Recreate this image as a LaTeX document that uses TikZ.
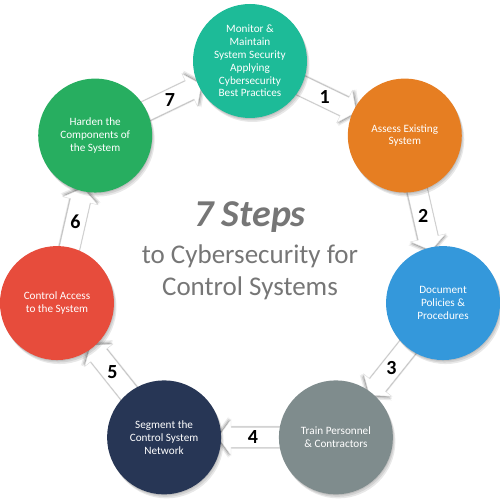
\documentclass[tikz,border=0pt]{standalone}
\usepackage{fontspec}
\setmainfont{Carlito}
\usetikzlibrary{positioning,shadows,backgrounds}
\definecolor{step-teal}{HTML}{1DBB98}
\definecolor{step-orange}{HTML}{E67E22}
\definecolor{step-blue}{HTML}{3498DB}
\definecolor{step-gray}{HTML}{7F8C8D}
\definecolor{step-navy}{HTML}{273655}
\definecolor{step-red}{HTML}{E74C3C}
\definecolor{step-green}{HTML}{27AE60}
\definecolor{title-gray}{HTML}{767676}
\tikzset{
    soft-shadow/.style = {
        drop shadow={opacity=0.09, shadow xshift=0.5pt, shadow yshift=-1pt, fill=black},
        drop shadow={opacity=0.09, shadow xshift=1.5pt, shadow yshift=-2.5pt, fill=black},
        drop shadow={opacity=0.09, shadow xshift=2.5pt, shadow yshift=-4pt, fill=black}},
    halo-shadow/.style = {
        general shadow={opacity=0.18, shadow scale=1.04, fill=black},
        general shadow={opacity=0.12, shadow scale=1.09, fill=black},
        general shadow={opacity=0.08, shadow scale=1.14, fill=black}},
    step-circle/.style = {circle, minimum size=114pt, inner sep=0pt, text=white, align=center, font=\fontsize{11.2}{12.8}\selectfont, soft-shadow},
    step-arrow/.style = {fill=white, draw=black!14, line width=0.4pt, halo-shadow},
    step-number/.style = {font=\fontsize{20}{20}\bfseries\selectfont, text=black},
}

\begin{document}
\begin{tikzpicture}[x=1pt,y=1pt]
\useasboundingbox (-250,-250) rectangle (250,250);
\coordinate (hub) at (0,-9);
\foreach \col/\txt [count=\i] in {
    step-teal/{Monitor \&\\ Maintain\\ System Security\\ Applying\\ Cybersecurity\\ Best Practices},
    step-orange/{Assess Existing\\ System},
    step-blue/{Document\\ Policies \&\\ Procedures},
    step-gray/{Train Personnel\\ \& Contractors},
    step-navy/{Segment the\\ Control System\\ Network},
    step-red/{Control Access\\ to the System},
    step-green/{Harden the\\ Components of\\ the System}}
    \node[step-circle, fill=\col] (step-\i) at ([shift={({90-(\i-1)*360/7}:198)}]hub) {\txt};
\begin{pgfonlayer}{background}
\foreach \i in {1,...,7} {
    \pgfmathtruncatemacro{\j}{mod(\i,7)+1}
    \pgfmathsetmacro{\ang}{-360/14-(\i-1)*360/7}
    \path (step-\i) -- (step-\j) coordinate[midway] (mid-\i);
    \filldraw[step-arrow, shift={(mid-\i)}, rotate=\ang]
        (-32,-10) -- (19,-10) -- (19,-18) -- (32,0) -- (19,18) -- (19,10) -- (-32,10) -- cycle;
    \node[step-number] (number-\i) at ([shift={(\ang:-3)}]mid-\i) {\i};
}
\end{pgfonlayer}
\node[text=title-gray, font=\fontsize{38}{42}\bfseries\itshape\selectfont] (title) at (0,33) {7 Steps};
\node[text=title-gray, align=center, font=\fontsize{27}{32}\selectfont] (subtitle) at (0,-22) {to Cybersecurity for\\ Control Systems};
\end{tikzpicture}
\end{document}
